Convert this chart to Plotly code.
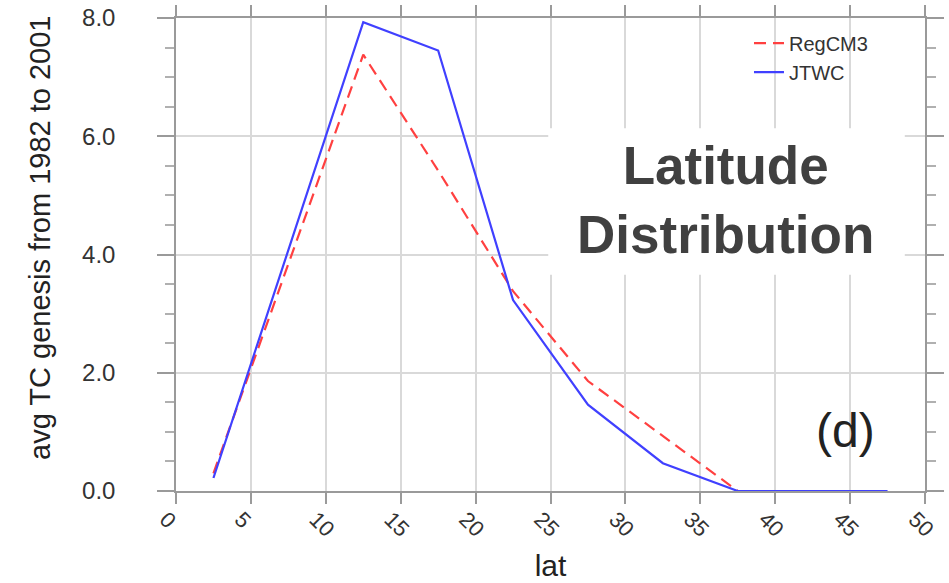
import plotly.graph_objects as go

lat = [2.5, 7.5, 12.5, 17.5, 22.5, 27.5, 32.5, 37.5, 42.5, 47.5]
regcm3 = [0.30, 3.84, 7.38, 5.42, 3.38, 1.86, 0.93, 0.0, 0.0, 0.0]
jtwc = [0.22, 4.08, 7.93, 7.45, 3.23, 1.46, 0.47, 0.0, 0.0, 0.0]

x_ticks = list(range(0, 51, 5))
y_ticks = [0, 2, 4, 6, 8]
y_ticklabels = ["0.0", "2.0", "4.0", "6.0", "8.0"]

FONT = "Arial, Liberation Sans, sans-serif"

fig = go.Figure()
fig.add_trace(go.Scatter(x=lat, y=regcm3, mode="lines", name="RegCM3",
                         line=dict(color="#ff4040", width=2.2, dash="12px,7px")))
fig.add_trace(go.Scatter(x=lat, y=jtwc, mode="lines", name="JTWC",
                         line=dict(color="#4040ff", width=2.2)))

axis_common = dict(
    showline=True, linecolor="#9a9a9a", linewidth=1.5, mirror="ticks",
    ticks="outside", tickcolor="#9a9a9a", tickwidth=1.5,
    showgrid=True, gridcolor="#d9d9d9", gridwidth=1.5, zeroline=False,
    automargin=False, ticklabeloverflow="allow",
)

fig.update_xaxes(range=[0, 50], tickvals=x_ticks, ticklen=11, tickangle=45,
                 ticklabelshift=-10, ticklabelstandoff=-6,
                 tickfont=dict(family=FONT, size=22, color="#333333"),
                 title=dict(text="lat", font=dict(family=FONT, size=30, color="#222222"), standoff=14),
                 **axis_common)
fig.update_yaxes(range=[0, 8], tickvals=y_ticks, ticktext=y_ticklabels, ticklen=17,
                 ticklabelstandoff=37,
                 tickfont=dict(family=FONT, size=24, color="#333333"),
                 minor=dict(dtick=0.5, ticks="outside", ticklen=9, tickcolor="#b0b0b0", showgrid=False),
                 **axis_common)

fig.add_annotation(x=-0.1816, y=0.535, xref="paper", yref="paper",
                   text="avg TC genesis from 1982 to 2001", showarrow=False,
                   textangle=-90,
                   font=dict(family=FONT, size=29, color="#222222"),
                   xanchor="center", yanchor="middle")

fig.add_shape(type="rect", xref="paper", yref="paper",
              x0=0.497, x1=0.973, y0=0.457, y1=0.767,
              fillcolor="white", line=dict(width=0), layer="above")
fig.add_annotation(x=0.733, y=0.615, xref="paper", yref="paper",
                   text="<b>Latitude<br>Distribution</b>", showarrow=False,
                   font=dict(family=FONT, size=53, color="#404040"),
                   xanchor="center", yanchor="middle")
fig.add_annotation(x=0.936, y=0.127, xref="paper", yref="paper",
                   text="(d)", showarrow=False,
                   font=dict(family=FONT, size=48, color="#222222"),
                   xanchor="right", yanchor="middle")

fig.update_layout(
    width=949, height=583,
    margin=dict(l=176, r=24, t=18, b=92),
    plot_bgcolor="white", paper_bgcolor="white",
    legend=dict(x=0.765, y=0.988, xanchor="left", yanchor="top",
                bgcolor="rgba(0,0,0,0)",
                font=dict(family=FONT, size=20, color="#333333")),
)

fig.write_html("out.html",
               config={"displayModeBar": False},
               post_script="document.body.style.margin='0';document.body.style.overflow='hidden';")
